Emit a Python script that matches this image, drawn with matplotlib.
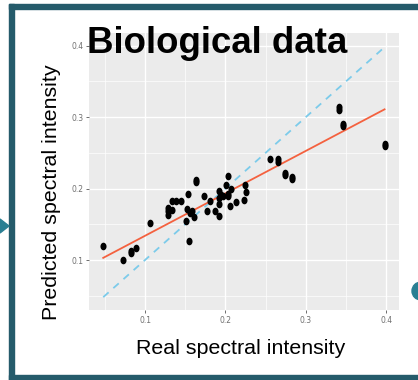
import numpy as np
import matplotlib
matplotlib.use("Agg")
import matplotlib.pyplot as plt
from matplotlib.patches import Rectangle, Polygon, Ellipse

# values
real = [0.048, 0.072, 0.083, 0.083, 0.089, 0.106,
        0.129, 0.129, 0.129, 0.133, 0.133, 0.1385, 0.145,
        0.151, 0.152, 0.154, 0.1547, 0.156, 0.158, 0.161, 0.164, 0.164,
        0.174, 0.177, 0.181, 0.1875, 0.192, 0.192, 0.192, 0.192,
        0.194, 0.197, 0.2007, 0.203, 0.203, 0.203, 0.2057, 0.2065,
        0.213, 0.223, 0.224, 0.2256,
        0.256, 0.266, 0.266, 0.274, 0.274, 0.283, 0.283,
        0.341, 0.341, 0.3466, 0.3466, 0.398, 0.398]
predicted = [0.120, 0.1005, 0.110, 0.112, 0.117, 0.152,
             0.169, 0.163, 0.173, 0.182, 0.170, 0.182, 0.183,
             0.154, 0.171, 0.192, 0.127, 0.166, 0.169, 0.160, 0.212, 0.209,
             0.189, 0.168, 0.182, 0.169, 0.197, 0.179, 0.162, 0.187,
             0.191, 0.189, 0.205, 0.218, 0.189, 0.192, 0.175, 0.199,
             0.181, 0.184, 0.205, 0.195,
             0.242, 0.242, 0.237, 0.222, 0.219, 0.216, 0.213,
             0.314, 0.310, 0.291, 0.288, 0.259, 0.262]

# fitted line
fit_slope = 0.594
fit_intercept = 0.0745

x_ticks = [0.1, 0.2, 0.3, 0.4]
y_ticks = [0.1, 0.2, 0.3, 0.4]

teal = "#255b6b"

fig = plt.figure(figsize=(4.18, 3.80), dpi=100)
fig.patch.set_facecolor("white")

ax = fig.add_axes([89/418, 1 - 310/380, 310/418, 277/380])
ax.set_facecolor("#ebebeb")
ax.set_xlim(0.0303, 0.416)
ax.set_ylim(0.030, 0.4178)

# ggplot style grid
ax.set_xticks(x_ticks)
ax.set_yticks(y_ticks)
ax.set_xticks([0.05, 0.15, 0.25, 0.35], minor=True)
ax.set_yticks([0.05, 0.15, 0.25, 0.35], minor=True)
ax.grid(which="major", color="white", linewidth=1.0)
ax.grid(which="minor", color="white", linewidth=0.5)
ax.set_axisbelow(True)
for s in ax.spines.values():
    s.set_visible(False)
ax.tick_params(which="major", length=2.5, width=0.6, color="#555555",
               labelsize=5.5, labelcolor="#707070", pad=1.5)
ax.tick_params(which="minor", length=0)
ax.set_xticklabels([str(t) for t in x_ticks])
ax.set_yticklabels([str(t) for t in y_ticks])

xr = np.array([min(real), max(real)])
ax.plot(xr, xr, color="#7ccbea", linestyle=(0, (4, 3.5)), linewidth=1.3, zorder=2)
ax.plot(xr, fit_intercept + fit_slope * xr, color="#f4613f", linewidth=1.3, zorder=3)

# points look slightly stretched vertically in the slide
t = np.linspace(0, 2 * np.pi, 40)
oval = np.column_stack([0.8 * np.cos(t), np.sin(t)])
ax.scatter(real, predicted, s=30, color="black", marker=oval, zorder=4, linewidths=0)

# labels and title
fig.text(52/418, 1 - 192.5/380, "Predicted spectral intensity", rotation=90,
         ha="center", va="center", fontsize=15.4, family="Liberation Sans")
fig.text(241/418, 1 - 348/380, "Real spectral intensity",
         ha="center", va="center", fontsize=15.4, family="Liberation Sans")
fig.text(217.5/418, 1 - 53/380, "Biological data", ha="center", va="baseline",
         fontsize=26.4, fontweight="bold", family="Liberation Sans", zorder=10)

# slide frame
W, H = 418, 380
fig.patches.append(Rectangle((9/W, 0), 5/W, 1 - 4/H, transform=fig.transFigure,
                             color=teal, zorder=5))
fig.patches.append(Rectangle((9/W, 1 - 9/H), 1, 5/H, transform=fig.transFigure,
                             color=teal, zorder=5))
fig.patches.append(Rectangle((9/W, 0), 1, 5/H, transform=fig.transFigure,
                             color=teal, zorder=5))
fig.patches.append(Polygon([(0, 1 - 219/H), (9/W, 1 - 226/H), (0, 1 - 233/H)],
                           closed=True, transform=fig.transFigure,
                           color="#2a7f93", zorder=5))
fig.patches.append(Ellipse((421/W, 1 - 291/H), 18/W, 18/H, transform=fig.transFigure,
                           color="#2a7f93", zorder=5))

fig.savefig("out.png", dpi=100)
